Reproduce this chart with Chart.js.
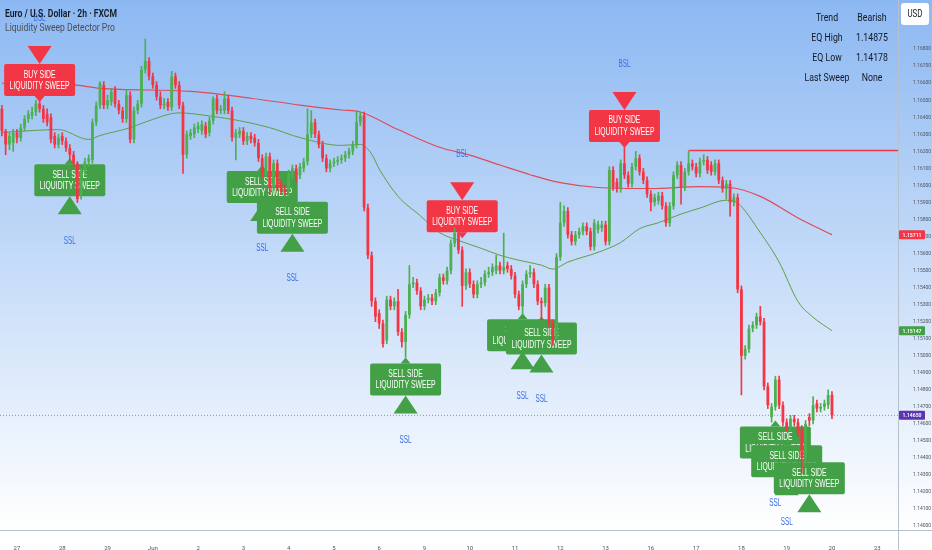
<!DOCTYPE html>
<html lang="en">
<head>
<meta charset="UTF-8">
<title>EURUSD 2h - Liquidity Sweep Detector Pro</title>
<script src="https://cdn.jsdelivr.net/npm/chart.js"></script>
<style>
  html, body { margin: 0; padding: 0; background: #fff; }
  #wrap { width: 932px; height: 550px; }
</style>
</head>
<body>
<div id="wrap"><canvas id="myChart" width="932" height="550"></canvas></div>
<script>
// 2h candles, index 0 = May 26 afternoon, 12 candles per trading day
const open = [
  1.1645,1.1632,1.1624,1.1625,1.1631,1.1628,1.1634,1.1639,1.1641,1.1643,
  1.1648,1.1645,1.1642,1.1640,1.1629,1.1624,1.1629,1.1626,1.1622,1.1618,
  1.1613,1.1594,1.1608,1.1614,1.1615,1.1637,1.1647,1.1659,1.1647,1.1649,
  1.1656,1.1648,1.1644,1.1639,1.1653,1.1627,1.1644,1.1648,1.1668,1.1673,
  1.1664,1.1659,1.1652,1.1647,1.1649,1.1646,1.1664,1.1659,1.1647,1.1618,
  1.1629,1.1630,1.1633,1.1632,1.1635,1.1631,1.1638,1.1651,1.1644,1.1644,
  1.1651,1.1644,1.1628,1.1630,1.1632,1.1626,1.1629,1.1628,1.1625,1.1616,
  1.1607,1.1617,1.1599,1.1613,1.1601,1.1598,1.1596,1.1606,1.1610,1.1606,
  1.1610,1.1614,1.1630,1.1637,1.1630,1.1624,1.1616,1.1610,1.1613,1.1614,
  1.1615,1.1616,1.1618,1.1620,1.1624,1.1637,1.1641,1.1587,1.1559,1.1532,
  1.1525,1.1519,1.1509,1.1533,1.1529,1.1532,1.1514,1.1508,1.1524,1.1542,
  1.1543,1.1538,1.1529,1.1533,1.1534,1.1532,1.1537,1.1546,1.1544,1.1550,
  1.1566,1.1572,1.1562,1.1541,1.1549,1.1542,1.1536,1.1542,1.1543,1.1548,
  1.1549,1.1550,1.1553,1.1550,1.1553,1.1551,1.1547,1.1536,1.1529,1.1542,
  1.1548,1.1549,1.1542,1.1532,1.1531,1.1540,1.1519,1.1510,1.1558,1.1578,
  1.1585,1.1571,1.1567,1.1571,1.1573,1.1576,1.1573,1.1564,1.1574,1.1575,
  1.1577,1.1567,1.1609,1.1602,1.1598,1.1613,1.1606,1.1601,1.1611,1.1616,
  1.1608,1.1603,1.1595,1.1590,1.1591,1.1594,1.1588,1.1578,1.1588,1.1606,
  1.1612,1.1599,1.1608,1.1613,1.1611,1.1607,1.1614,1.1615,1.1612,1.1608,
  1.1613,1.1603,1.1598,1.1601,1.1590,1.1593,1.1539,1.1500,1.1504,1.1516,
  1.1518,1.1523,1.1520,1.1482,1.1464,1.1470,1.1486,1.1471,1.1461,1.1458,
  1.1463,1.1461,1.1457,1.1440,1.1464,1.1462,1.1472,1.1469,1.1470,1.1471,
  1.1477
];
const high = [
  1.1647,1.1633,1.1631,1.1633,1.1633,1.1636,1.1641,1.1644,1.1646,1.1650,
  1.1651,1.1647,1.1645,1.1642,1.1631,1.1630,1.1631,1.1628,1.1624,1.1620,
  1.1614,1.1610,1.1616,1.1618,1.1639,1.1649,1.1661,1.1661,1.1653,1.1657,
  1.1658,1.1650,1.1646,1.1656,1.1655,1.1646,1.1650,1.1670,1.1686,1.1675,
  1.1666,1.1661,1.1655,1.1651,1.1651,1.1667,1.1666,1.1661,1.1649,1.1632,
  1.1633,1.1636,1.1637,1.1638,1.1637,1.1640,1.1652,1.1653,1.1647,1.1655,
  1.1653,1.1646,1.1633,1.1634,1.1634,1.1631,1.1631,1.1630,1.1627,1.1618,
  1.1619,1.1619,1.1615,1.1615,1.1603,1.1600,1.1609,1.1612,1.1612,1.1613,
  1.1616,1.1645,1.1644,1.1639,1.1632,1.1626,1.1618,1.1615,1.1616,1.1617,
  1.1618,1.1620,1.1622,1.1626,1.1643,1.1643,1.1643,1.1589,1.1561,1.1534,
  1.1527,1.1521,1.1535,1.1535,1.1534,1.1539,1.1516,1.1526,1.1553,1.1546,
  1.1545,1.1540,1.1535,1.1536,1.1536,1.1539,1.1548,1.1548,1.1552,1.1568,
  1.1575,1.1574,1.1564,1.1551,1.1551,1.1544,1.1544,1.1546,1.1550,1.1552,
  1.1554,1.1559,1.1555,1.1572,1.1555,1.1553,1.1549,1.1538,1.1544,1.1550,
  1.1553,1.1551,1.1544,1.1534,1.1542,1.1542,1.1521,1.1560,1.1590,1.1588,
  1.1587,1.1573,1.1573,1.1575,1.1578,1.1578,1.1575,1.1580,1.1579,1.1579,
  1.1579,1.1611,1.1611,1.1604,1.1615,1.1622,1.1608,1.1613,1.1620,1.1618,
  1.1610,1.1605,1.1597,1.1595,1.1596,1.1596,1.1590,1.1590,1.1608,1.1614,
  1.1614,1.1610,1.1620,1.1615,1.1613,1.1616,1.1618,1.1617,1.1614,1.1615,
  1.1615,1.1605,1.1603,1.1603,1.1595,1.1595,1.1541,1.1506,1.1518,1.1520,
  1.1525,1.1529,1.1522,1.1484,1.1472,1.1488,1.1488,1.1473,1.1463,1.1465,
  1.1465,1.1463,1.1459,1.1462,1.1466,1.1476,1.1474,1.1472,1.1474,1.1480,
  1.1479
];
const low = [
  1.1629,1.1618,1.1621,1.1620,1.1625,1.1626,1.1632,1.1637,1.1639,1.1641,
  1.1643,1.1637,1.1635,1.1625,1.1622,1.1622,1.1624,1.1620,1.1615,1.1611,
  1.1590,1.1592,1.1606,1.1611,1.1613,1.1635,1.1645,1.1645,1.1645,1.1647,
  1.1646,1.1642,1.1637,1.1637,1.1625,1.1625,1.1642,1.1646,1.1666,1.1662,
  1.1657,1.1650,1.1645,1.1645,1.1644,1.1644,1.1657,1.1645,1.1607,1.1616,
  1.1627,1.1628,1.1631,1.1630,1.1628,1.1629,1.1636,1.1642,1.1642,1.1642,
  1.1642,1.1626,1.1615,1.1628,1.1624,1.1624,1.1625,1.1623,1.1614,1.1605,
  1.1605,1.1595,1.1597,1.1597,1.1595,1.1594,1.1594,1.1604,1.1602,1.1604,
  1.1608,1.1612,1.1628,1.1628,1.1622,1.1614,1.1608,1.1608,1.1611,1.1612,
  1.1613,1.1614,1.1616,1.1618,1.1622,1.1635,1.1585,1.1557,1.1529,1.1520,
  1.1516,1.1505,1.1507,1.1527,1.1527,1.1512,1.1505,1.1499,1.1522,1.1540,
  1.1536,1.1527,1.1527,1.1531,1.1530,1.1530,1.1535,1.1542,1.1542,1.1548,
  1.1564,1.1560,1.1529,1.1539,1.1540,1.1534,1.1534,1.1540,1.1541,1.1546,
  1.1547,1.1548,1.1548,1.1548,1.1549,1.1545,1.1534,1.1527,1.1524,1.1540,
  1.1546,1.1540,1.1530,1.1521,1.1529,1.1517,1.1506,1.1508,1.1556,1.1576,
  1.1569,1.1565,1.1565,1.1569,1.1571,1.1571,1.1562,1.1562,1.1572,1.1573,
  1.1565,1.1565,1.1597,1.1596,1.1596,1.1604,1.1599,1.1599,1.1609,1.1606,
  1.1601,1.1593,1.1585,1.1588,1.1589,1.1586,1.1576,1.1576,1.1586,1.1604,
  1.1589,1.1597,1.1606,1.1609,1.1605,1.1605,1.1612,1.1607,1.1606,1.1606,
  1.1601,1.1596,1.1592,1.1582,1.1588,1.1537,1.1477,1.1498,1.1502,1.1514,
  1.1516,1.1518,1.1480,1.1469,1.1461,1.1468,1.1469,1.1459,1.1456,1.1456,
  1.1459,1.1453,1.1431,1.1438,1.1459,1.1460,1.1467,1.1467,1.1468,1.1469,
  1.1463
];
const close = [
  1.1632,1.1624,1.1629,1.1631,1.1628,1.1634,1.1639,1.1642,1.1643,1.1648,
  1.1645,1.1639,1.1637,1.1627,1.1624,1.1628,1.1626,1.1622,1.1618,1.1613,
  1.1592,1.1608,1.1614,1.1616,1.1637,1.1647,1.1660,1.1647,1.1650,1.1655,
  1.1648,1.1644,1.1639,1.1653,1.1627,1.1644,1.1648,1.1668,1.1673,1.1664,
  1.1659,1.1652,1.1647,1.1648,1.1646,1.1664,1.1659,1.1647,1.1618,1.1630,
  1.1631,1.1634,1.1635,1.1636,1.1630,1.1638,1.1651,1.1644,1.1645,1.1651,
  1.1644,1.1628,1.1631,1.1632,1.1626,1.1629,1.1627,1.1625,1.1616,1.1607,
  1.1617,1.1599,1.1613,1.1599,1.1597,1.1596,1.1607,1.1610,1.1606,1.1611,
  1.1614,1.1630,1.1637,1.1630,1.1624,1.1616,1.1610,1.1613,1.1614,1.1615,
  1.1616,1.1618,1.1620,1.1624,1.1637,1.1641,1.1587,1.1559,1.1532,1.1523,
  1.1519,1.1507,1.1533,1.1529,1.1532,1.1514,1.1508,1.1524,1.1542,1.1543,
  1.1538,1.1529,1.1533,1.1534,1.1532,1.1537,1.1546,1.1544,1.1550,1.1566,
  1.1572,1.1562,1.1541,1.1549,1.1542,1.1536,1.1542,1.1543,1.1548,1.1549,
  1.1552,1.1553,1.1550,1.1552,1.1551,1.1547,1.1536,1.1529,1.1542,1.1548,
  1.1549,1.1542,1.1532,1.1531,1.1540,1.1519,1.1508,1.1558,1.1578,1.1585,
  1.1571,1.1567,1.1571,1.1573,1.1576,1.1573,1.1564,1.1578,1.1577,1.1577,
  1.1567,1.1609,1.1599,1.1598,1.1613,1.1606,1.1601,1.1611,1.1616,1.1608,
  1.1603,1.1595,1.1590,1.1593,1.1594,1.1588,1.1578,1.1588,1.1606,1.1612,
  1.1599,1.1608,1.1613,1.1611,1.1607,1.1614,1.1615,1.1609,1.1608,1.1613,
  1.1603,1.1598,1.1601,1.1590,1.1593,1.1539,1.1500,1.1504,1.1516,1.1518,
  1.1523,1.1520,1.1482,1.1471,1.1470,1.1486,1.1471,1.1461,1.1458,1.1463,
  1.1461,1.1455,1.1440,1.1460,1.1462,1.1471,1.1469,1.1470,1.1472,1.1477,
  1.1465
];

// x axis: day labels and the candle index where each day starts
const dayLabels = ['27','28','29','Jun','2','3','4','5','6','9','10','11','12','13','16','17','18','19','20','23'];
const dayIdx = [4,16,28,40,52,64,76,88,100,112,124,136,148,160,172,184,196,208,220,232];

const priceTicks = [1.140,1.141,1.142,1.143,1.144,1.145,1.146,1.147,1.148,1.149,
  1.150,1.151,1.152,1.153,1.154,1.155,1.156,1.157,1.158,1.159,
  1.160,1.161,1.162,1.163,1.164,1.165,1.166,1.167,1.168];

// moving averages (sparse points)
const slowIdx = [0,19,26,50,66,79,90,95,105,116,124,132,140,148,158,172,185,193,201,211,220];
const slowVal = [1.1660,1.1659,1.1657,1.16552,1.16512,1.16472,1.16443,1.16431,1.16328,1.16224,1.16178,
  1.16120,1.16063,1.16016,1.15988,1.15982,1.15993,1.15988,1.15936,1.15809,1.15711];
const fastIdx = [0,8,15,23,26,34,39,47,55,63,71,79,90,95,98,100,105,111,116,121,127,132,137,143,146,
  150,158,164,169,174,180,185,192,195,201,206,211,215,220];
const fastVal = [1.16311,1.16322,1.16328,1.16270,1.16293,1.16339,1.16380,1.16426,1.16408,1.16380,1.16339,
  1.16281,1.16235,1.16241,1.16184,1.16097,1.15936,1.15820,1.15723,1.15677,1.15631,1.15590,1.15561,
  1.15532,1.15509,1.15550,1.15607,1.15665,1.15746,1.15781,1.15832,1.15867,1.15913,1.15896,1.15723,
  1.15550,1.15318,1.15226,1.15147];

const levelIdx = [182, 237.5];
const levelVal = 1.16205;

// sweep labels: candle index and price the pointer touches
const buyIdx = [10, 122, 165];
const buyTip = [1.1649, 1.1569, 1.1622];
const sellIdx = [18, 69, 77, 107, 138, 143, 205, 208, 214];
const sellTip = [1.1616, 1.1612, 1.1594, 1.1499, 1.1525, 1.1523, 1.1462, 1.1451, 1.1441];

const tableKeys = ['Trend', 'EQ High', 'EQ Low', 'Last Sweep'];
const tableVals = ['Bearish', '1.14875', '1.14178', 'None'];

const GREEN = '#4caf50', RED = '#f23645', BOXGREEN = '#43a047';
const candleColors = close.map((c, i) => c >= open[i] ? GREEN : RED);

Chart.defaults.font.family = 'Roboto, "Noto Sans", sans-serif';

// draw text squeezed horizontally by factor k
function squeezed(ctx, txt, x, y, k, align) {
  ctx.save();
  ctx.translate(x, y);
  ctx.scale(k, 1);
  ctx.textAlign = align || 'center';
  ctx.fillText(txt, 0, 0);
  ctx.restore();
}
function fitTo(ctx, txt, x, y, w, align) {
  const k = w / ctx.measureText(txt).width;
  squeezed(ctx, txt, x, y, k, align);
}
function box(ctx, x, y, w, h, r) {
  ctx.beginPath();
  if (ctx.roundRect) ctx.roundRect(x, y, w, h, r); else ctx.rect(x, y, w, h);
  ctx.fill();
}

function sweepLabel(ctx, x, tip, buy) {
  const bw = 71, bh = 32, nh = 6, nw = 5, tw = 12, th = 18;
  const top = buy ? tip - nh - bh : tip + nh;
  const bot = top + bh;
  ctx.fillStyle = buy ? RED : BOXGREEN;
  box(ctx, x - bw / 2, top, bw, bh, 2);
  ctx.beginPath();
  if (buy) { ctx.moveTo(x - nw, bot); ctx.lineTo(x + nw, bot); ctx.lineTo(x, tip); }
  else { ctx.moveTo(x - nw, top); ctx.lineTo(x + nw, top); ctx.lineTo(x, tip); }
  ctx.fill();
  ctx.beginPath();
  if (buy) { ctx.moveTo(x - tw, top - th); ctx.lineTo(x + tw, top - th); ctx.lineTo(x, top); }
  else { ctx.moveTo(x - tw, bot + th); ctx.lineTo(x + tw, bot + th); ctx.lineTo(x, bot); }
  ctx.fill();

  ctx.fillStyle = '#ffffff';
  ctx.font = '11px "Liberation Sans Narrow", "Liberation Sans", Roboto';
  ctx.textBaseline = 'middle';
  const k = 60 / ctx.measureText('LIQUIDITY SWEEP').width;
  squeezed(ctx, buy ? 'BUY SIDE' : 'SELL SIDE', x, top + 10.5, k);
  squeezed(ctx, 'LIQUIDITY SWEEP', x, top + 22, k);

  ctx.fillStyle = '#3b6ee0';
  ctx.font = '10px "Liberation Sans Narrow", "Liberation Sans", Roboto';
  const k2 = 12 / ctx.measureText('SSL').width;
  if (buy) squeezed(ctx, 'BSL', x, top - th - 28, k2);
  else squeezed(ctx, 'SSL', x, bot + th + 27, k2);
}

const overlay = {
  id: 'overlay',
  beforeDraw(chart) {
    const {ctx, width, height} = chart;
    const g = ctx.createLinearGradient(0, 0, 0, 530);
    g.addColorStop(0, '#8cb8f2');
    g.addColorStop(1, '#ffffff');
    ctx.save();
    ctx.fillStyle = g;
    ctx.fillRect(0, 0, width, height);
    ctx.restore();
  },
  afterDatasetDraw(chart, args) {
    if (chart.data.datasets[args.index].label !== 'fast') return;
    const {ctx, chartArea} = chart;
    const xs = chart.scales.x, ys = chart.scales.y;
    ctx.save();
    ctx.beginPath();
    ctx.rect(chartArea.left, chartArea.top, chartArea.right - chartArea.left, chartArea.bottom - chartArea.top);
    ctx.clip();
    buyIdx.forEach((k, j) => sweepLabel(ctx, xs.getPixelForValue(k), ys.getPixelForValue(buyTip[j]), true));
    sellIdx.forEach((k, j) => sweepLabel(ctx, xs.getPixelForValue(k), ys.getPixelForValue(sellTip[j]), false));
    ctx.restore();
  },
  afterDraw(chart) {
    const {ctx} = chart;
    const ys = chart.scales.y;
    ctx.save();
    ctx.textBaseline = 'middle';

    // title
    ctx.fillStyle = '#131722';
    ctx.font = '600 11px Roboto';
    fitTo(ctx, 'Euro / U.S. Dollar · 2h · FXCM', 5, 14, 112, 'left');
    ctx.fillStyle = '#4a4e5a';
    ctx.font = '11px Roboto';
    fitTo(ctx, 'Liquidity Sweep Detector Pro', 5, 28, 110, 'left');

    // info table
    ctx.fillStyle = '#131722';
    ctx.font = '11px Roboto';
    const kt = 45 / ctx.measureText('Last Sweep').width;
    tableKeys.forEach((t, i) => {
      squeezed(ctx, t, 827, 18 + i * 20, kt);
      squeezed(ctx, tableVals[i], 872, 18 + i * 20, kt);
    });

    // axis lines
    ctx.strokeStyle = '#b6c0cf';
    ctx.lineWidth = 1;
    ctx.beginPath();
    ctx.moveTo(898.5, 0); ctx.lineTo(898.5, 550);
    ctx.moveTo(0, 530.5); ctx.lineTo(932, 530.5);
    ctx.stroke();

    // USD button
    ctx.fillStyle = '#ffffff';
    box(ctx, 901, 3, 28, 22, 3);
    ctx.fillStyle = '#131722';
    ctx.font = '10px Roboto';
    fitTo(ctx, 'USD', 915, 14, 15, 'center');

    // price tags on the axis
    const tag = (v, col) => {
      const y = ys.getPixelForValue(v);
      ctx.fillStyle = col;
      box(ctx, 899, y - 4.5, 26, 9, 1);
      ctx.fillStyle = '#ffffff';
      ctx.font = '600 6px Roboto';
      fitTo(ctx, v.toFixed(5), 912, y + 0.5, 19, 'center');
    };
    tag(slowVal[slowVal.length - 1], RED);
    tag(fastVal[fastVal.length - 1], BOXGREEN);
    tag(close[close.length - 1], '#5e35b1');
    ctx.restore();
  }
};

const lineBase = { type: 'line', pointRadius: 0, borderWidth: 1, fill: false, cubicInterpolationMode: 'monotone' };
const N = close.length;

new Chart(document.getElementById('myChart'), {
  type: 'bar',
  data: {
    datasets: [
      { label: 'body', data: open.map((o, i) => ({x: i, y: [o, close[i]]})),
        backgroundColor: candleColors, grouped: false, barPercentage: 0.74, categoryPercentage: 1,
        minBarLength: 1, order: 1 },
      { label: 'wick', data: low.map((l, i) => ({x: i, y: [l, high[i]]})),
        backgroundColor: candleColors, grouped: false, barThickness: 1, order: 2 },
      { ...lineBase, label: 'fast', data: fastIdx.map((k, j) => ({x: k, y: fastVal[j]})),
        borderColor: '#5f9f45', order: 3 },
      { ...lineBase, label: 'slow', data: slowIdx.map((k, j) => ({x: k, y: slowVal[j]})),
        borderColor: '#de4c58', borderWidth: 1.2, order: 4 },
      { ...lineBase, label: 'level', data: levelIdx.map(k => ({x: k, y: levelVal})),
        borderColor: RED, borderWidth: 1.5, order: 5 },
      { ...lineBase, label: 'last', data: [{x: -0.5, y: close[N - 1]}, {x: 237.5, y: close[N - 1]}],
        borderColor: '#8e92a3', borderDash: [1, 2], order: 6 }
    ]
  },
  options: {
    responsive: false,
    devicePixelRatio: 1,
    animation: false,
    events: [],
    layout: { padding: 0 },
    plugins: { legend: { display: false }, tooltip: { enabled: false } },
    scales: {
      x: {
        type: 'linear', min: -0.5, max: 237.5, offset: false,
        grid: { display: false }, border: { display: false },
        afterFit(s) { s.height = 20; },
        afterBuildTicks(s) { s.ticks = dayIdx.map(v => ({value: v})); },
        ticks: {
          autoSkip: false, maxRotation: 0, padding: 7,
          color: '#50535e', font: { size: 6 },
          callback: v => dayLabels[dayIdx.indexOf(v)]
        }
      },
      y: {
        position: 'right', min: 1.13977, max: 1.1703, beginAtZero: false,
        grid: { display: false }, border: { display: false },
        afterFit(s) { s.width = 34; },
        afterBuildTicks(s) { s.ticks = priceTicks.map(v => ({value: v})); },
        ticks: {
          autoSkip: false, padding: 7,
          color: '#50535e', font: { size: 5 },
          callback: v => v.toFixed(5)
        }
      }
    }
  },
  plugins: [overlay]
});
</script>
</body>
</html>
